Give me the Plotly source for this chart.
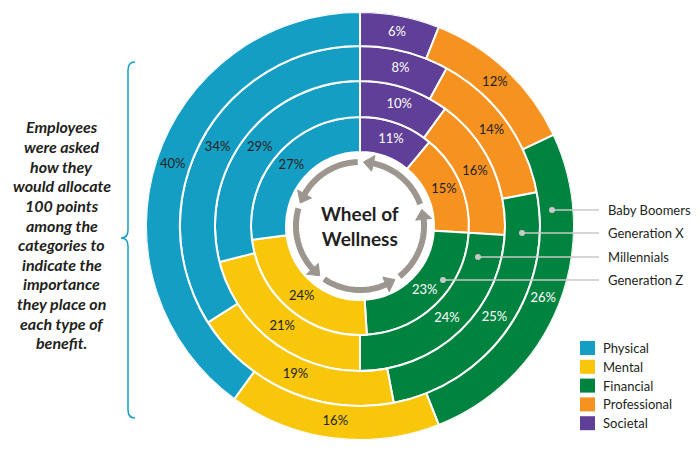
import numpy as np
import plotly.graph_objects as go

# data, rings from inner to outer
generations = ["Generation Z", "Millennials", "Generation X", "Baby Boomers"]
categories = ["Societal", "Professional", "Financial", "Mental", "Physical"]
societal = [11, 10, 8, 6]
professional = [15, 16, 14, 12]
financial = [23, 24, 25, 26]
mental = [24, 21, 19, 16]
physical = [27, 29, 34, 40]

legend_order = ["Physical", "Mental", "Financial", "Professional", "Societal"]
left_note = ["Employees", "were asked", "how they", "would allocate", "100 points",
             "among the", "categories to", "indicate the", "importance",
             "they place on", "each type of", "benefit."]

colors = {
    "Physical": "#149ec3",
    "Mental": "#f8c60b",
    "Financial": "#00833f",
    "Professional": "#f6921f",
    "Societal": "#5f3f98",
}
text_colors = {
    "Physical": "#231f20",
    "Mental": "#231f20",
    "Financial": "white",
    "Professional": "#231f20",
    "Societal": "white",
}
FONT = "Lato"
W, H = 700, 456
CX, CY = 360, 226
R_OUT = 214
ring_edges = [74, 109, 145, 180, 214]


def px(x):
    return x / W


def py(y):
    return 1 - y / H


values = {
    "Societal": societal,
    "Professional": professional,
    "Financial": financial,
    "Mental": mental,
    "Physical": physical,
}

fig = go.Figure()

bases = ring_edges[:-1]
widths_r = [ring_edges[i + 1] - ring_edges[i] for i in range(4)]
mids_r = [(ring_edges[i + 1] + ring_edges[i]) / 2 for i in range(4)]

start = np.zeros(4)
for cat in categories:
    v = np.array(values[cat], dtype=float)
    theta = (start + v / 2) * 3.6
    fig.add_trace(go.Barpolar(
        r=widths_r, base=bases, theta=theta, width=v * 3.6,
        marker=dict(color=colors[cat], line=dict(color="white", width=2)),
        name=cat, showlegend=False, hoverinfo="skip",
    ))
    fig.add_trace(go.Scatterpolar(
        r=mids_r, theta=theta, mode="text",
        text=[f"{int(x)}%" for x in v],
        textfont=dict(family=FONT, size=13, color=text_colors[cat]),
        showlegend=False, hoverinfo="skip",
    ))
    start += v

# circular arrows in the middle
arrow_col = "#9c968f"
tips = [3, 75, 147, 219, 291]
for i, t in enumerate(tips):
    nxt = tips[(i + 1) % 5] + (360 if i == 4 else 0)
    th = np.linspace(t + 7, nxt - 5, 40)
    fig.add_trace(go.Scatterpolar(
        r=[64] * len(th), theta=th, mode="lines",
        line=dict(color=arrow_col, width=6),
        showlegend=False, hoverinfo="skip",
    ))
    fig.add_trace(go.Scatterpolar(
        r=[64, 72, 56, 64], theta=[t, t + 9, t + 9, t], mode="lines",
        fill="toself", fillcolor=arrow_col, line=dict(color=arrow_col, width=1),
        showlegend=False, hoverinfo="skip",
    ))

shapes = []
annotations = []

# center title
annotations.append(dict(
    x=px(CX), y=py(CY), xref="paper", yref="paper", showarrow=False,
    text="<b>Wheel of</b><br><b>Wellness</b>",
    font=dict(family=FONT, size=19, color="#231f20"),
    xanchor="center", yanchor="middle", borderpad=0,
))

# generation callouts
callout_y = [210, 233, 257, 280]
dot_x = [552, 522, 478, 443]
gen_labels = ["Baby Boomers", "Generation X", "Millennials", "Generation Z"]
for lab, yy, dx in zip(gen_labels, callout_y, dot_x):
    shapes.append(dict(type="line", xref="paper", yref="paper",
                       x0=px(dx), x1=px(599), y0=py(yy), y1=py(yy),
                       line=dict(color="#c8c8c8", width=1.5)))
    shapes.append(dict(type="circle", xref="paper", yref="paper",
                       x0=px(dx - 3), x1=px(dx + 3), y0=py(yy - 3), y1=py(yy + 3),
                       fillcolor="#c8c8c8", line=dict(width=0)))
    annotations.append(dict(
        x=px(606), y=py(yy), xref="paper", yref="paper", showarrow=False,
        text=lab, xanchor="left", yanchor="middle",
        font=dict(family=FONT, size=13, color="#231f20"),
    ))

# legend
for i, cat in enumerate(legend_order):
    yy = 348 + i * 18.8
    shapes.append(dict(type="rect", xref="paper", yref="paper",
                       x0=px(580), x1=px(595), y0=py(yy - 7), y1=py(yy + 7),
                       fillcolor=colors[cat], line=dict(width=0)))
    annotations.append(dict(
        x=px(601), y=py(yy), xref="paper", yref="paper", showarrow=False,
        text=cat, xanchor="left", yanchor="middle",
        font=dict(family=FONT, size=13, color="#231f20"),
    ))

# left note
for i, line in enumerate(left_note):
    annotations.append(dict(
        x=px(62), y=py(127 + i * 19.6), xref="paper", yref="paper", showarrow=False,
        text=f"<b><i>{line}</i></b>", xanchor="center", yanchor="middle",
        font=dict(family=FONT, size=16, color="#231f20"),
    ))

# brace
pts = [("M", 135, 62), ("Q", 128, 62, 128, 70), ("L", 128, 230),
       ("Q", 128, 238, 121, 238), ("Q", 128, 238, 128, 246), ("L", 128, 410),
       ("Q", 128, 418, 135, 418)]
path = ""
for p in pts:
    coords = p[1:]
    parts = []
    for k in range(0, len(coords), 2):
        parts.append(f"{px(coords[k]):.5f},{py(coords[k + 1]):.5f}")
    path += p[0] + " " + " ".join(parts) + " "
shapes.append(dict(type="path", xref="paper", yref="paper", path=path.strip(),
                   line=dict(color="#149ec3", width=1.5)))

fig.update_layout(
    width=W, height=H,
    margin=dict(l=0, r=0, t=0, b=0),
    paper_bgcolor="white",
    polar=dict(
        domain=dict(x=[px(CX - R_OUT), px(CX + R_OUT)],
                    y=[py(CY + R_OUT), py(CY - R_OUT)]),
        bgcolor="white",
        hole=0,
        radialaxis=dict(visible=False, range=[0, R_OUT]),
        angularaxis=dict(visible=False, rotation=90, direction="clockwise"),
    ),
    shapes=shapes,
    annotations=annotations,
    showlegend=False,
)

# the page's default body margin would push the figure off by 8px
fig.write_html("out.html", config={"displayModeBar": False},
               post_script="document.body.style.margin='0';")
